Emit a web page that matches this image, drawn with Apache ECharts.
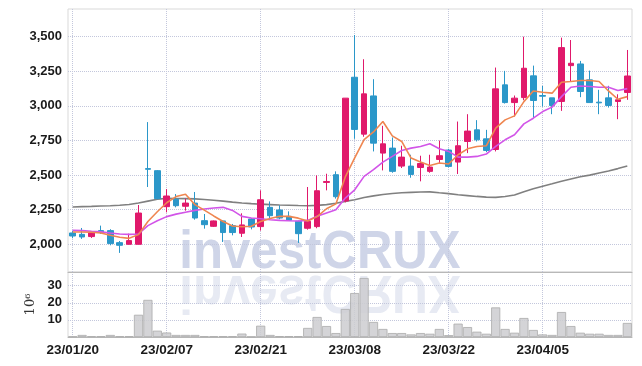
<!DOCTYPE html>
<html>
<head>
<meta charset="utf-8">
<script src="https://cdn.jsdelivr.net/npm/echarts@6/dist/echarts.min.js"></script>
<style>
html,body{margin:0;padding:0;background:#fff;}
#chart{width:642px;height:366px;}
</style>
</head>
<body>
<div id="chart"></div>
<script>
const dates = ['23/01/20','23/01/25','23/01/26','23/01/27','23/01/30','23/01/31','23/02/01','23/02/02','23/02/03','23/02/06',
'23/02/07','23/02/08','23/02/09','23/02/10','23/02/13','23/02/14','23/02/15','23/02/16','23/02/17','23/02/20',
'23/02/21','23/02/22','23/02/23','23/02/24','23/02/27','23/02/28','23/03/02','23/03/03','23/03/06','23/03/07',
'23/03/08','23/03/09','23/03/10','23/03/13','23/03/14','23/03/15','23/03/16','23/03/17','23/03/20','23/03/21',
'23/03/22','23/03/23','23/03/24','23/03/27','23/03/28','23/03/29','23/03/30','23/03/31','23/04/03','23/04/04',
'23/04/05','23/04/06','23/04/07','23/04/10','23/04/11','23/04/12','23/04/13','23/04/14','23/04/17','23/04/18'];

const opens  = [2082,2072,2056,2099,2099,2012,2000,2000,2547,2532, 2272,2325,2275,2298,2171,2130,2169,2135,2080,2183,
                2128,2267,2248,2202,2166,2116,2128,2447,2503,2313, 3207,2796,3072,2659,2695,2565,2565,2555,2527,2613,
                2681,2594,2743,2827,2762,2685,3152,3024,3060,3217, 3075,3058,3032,3291,3303,3188,3027,3058,3032,3097];
const closes = [2060,2053,2082,2085,2005,1993,2027,2226,2542,2330, 2349,2279,2298,2190,2142,2169,2085,2085,2140,2125,
                2322,2207,2190,2174,2077,2166,2387,2454,2344,3056, 2830,3087,2731,2726,2527,2630,2505,2584,2558,2640,
                2563,2712,2818,2755,2678,3123,3024,3056,3272,3039, 3070,3003,3421,3308,3104,3024,3022,3003,3044,3216];
const lows   = [2044,2039,2046,2075,1993,1938,2000,2000,2414,2325, 2231,2267,2243,2178,2113,2125,2017,2065,2053,2108,
                2099,2185,2181,2171,2010,2106,2116,2390,2330,2303, 2762,2777,2671,2534,2517,2551,2481,2455,2517,2584,
                2556,2508,2659,2743,2666,2671,3017,2923,3041,2911, 2995,2940,2964,3176,3063,3024,2940,2988,2904,3044];
const highs  = [2099,2118,2094,2135,2109,2024,2077,2284,2883,2536, 2399,2363,2330,2378,2219,2172,2169,2147,2224,2190,
                2390,2310,2282,2238,2171,2414,2498,2510,2527,3056, 3512,3337,3193,2856,2772,2712,2647,2640,2647,2750,
                2690,2887,2940,2897,2827,3277,3253,3075,3500,3291, 3144,3058,3493,3476,3325,3255,3116,3145,3084,3404];

const ma5  = [2089,2089,2087,2082,2065,2051,2043,2070,2165,2235, 2300,2345,2362,2287,2247,2205,2165,2132,2127,2130,
              2165,2187,2203,2202,2189,2168,2200,2257,2292,2487, 2625,2757,2812,2887,2783,2743,2623,2594,2570,2587,
              2580,2647,2690,2707,2712,2839,2899,2928,3031,3108, 3099,3092,3171,3176,3183,3183,3176,3108,3048,3067];
const ma20 = [2101,2099,2094,2090,2082,2075,2072,2075,2135,2170, 2200,2218,2232,2245,2255,2262,2267,2245,2202,2190,
              2185,2178,2173,2170,2168,2173,2202,2226,2250,2334, 2394,2491,2539,2594,2635,2678,2695,2707,2726,2690,
              2671,2630,2630,2635,2652,2707,2755,2791,2870,2911, 2959,2991,3067,3135,3144,3140,3135,3135,3111,3125];
const ma60 = [2270,2272,2274,2277,2279,2282,2288,2298,2312,2325, 2332,2331,2330,2328,2324,2318,2312,2305,2299,2294,
              2290,2287,2284,2282,2280,2279,2281,2287,2297,2310, 2322,2338,2350,2360,2367,2372,2375,2378,2379,2372,
              2366,2358,2352,2346,2341,2339,2345,2356,2380,2402, 2420,2437,2455,2472,2488,2500,2515,2530,2547,2566];

const volumes = [0.3,1.2,0.4,0.4,1.2,0.4,0.4,13.0,21.7,3.7, 2.6,1.2,1.2,1.2,0.4,0.4,0.4,0.4,2.0,0.2,
                 6.6,1.2,0.5,0.5,0.5,5.3,11.7,6.4,2.3,16.4, 25.7,34.5,8.8,4.7,2.3,2.3,1.5,2.3,1.9,4.7,
                 1.1,7.8,5.8,3.1,1.9,17.3,4.7,2.5,11.1,4.1, 1.5,1.2,14.6,6.4,2.5,1.9,1.9,1.2,1.2,8.2];

const priceTicks = [2000,2250,2500,2750,3000,3250,3500];
const volumeTicks = [10,20,30];

const candleData = opens.map((o,i)=>[o, closes[i], lows[i], highs[i]]);

const labelFont = "'Liberation Sans', Arial, sans-serif";
const splitStyle = {type:'dotted', color:'#c3c7dc', width:1};

const chart = echarts.init(document.getElementById('chart'), null, {renderer:'canvas'});
chart.setOption({
  animation:false,
  backgroundColor:'#fff',
  grid:[
    {left:68, top:9, width:564, height:263, show:true, borderColor:'#d9d9d9', borderWidth:1, backgroundColor:'transparent'},
    {left:68, top:272, width:564, height:65, show:true, borderColor:'#d9d9d9', borderWidth:1, backgroundColor:'transparent'}
  ],
  xAxis:[
    {type:'category', gridIndex:0, data:dates, boundaryGap:true,
     axisLine:{show:true, lineStyle:{color:'#b8b8b8'}}, axisTick:{show:false}, axisLabel:{show:false},
     splitLine:{show:true, interval:9, alignWithLabel:true, lineStyle:splitStyle}},
    {type:'category', gridIndex:1, data:dates, boundaryGap:true,
     axisLine:{show:true, lineStyle:{color:'#b8b8b8'}}, axisTick:{show:false, interval:9, alignWithLabel:true},
     axisLabel:{show:true, interval:9, fontFamily:labelFont, fontWeight:'bold', fontSize:13.5, color:'#1a1a1a', margin:6},
     splitLine:{show:true, interval:9, alignWithLabel:true, lineStyle:splitStyle}}
  ],
  yAxis:[
    {type:'value', gridIndex:0, min:1800, max:3700,
     axisLine:{show:false}, axisTick:{show:false, customValues:priceTicks},
     axisLabel:{customValues:priceTicks, fontFamily:labelFont, fontWeight:'bold', fontSize:13, color:'#1a1a1a', margin:6,
       formatter:v=>v.toLocaleString('en-US')},
     splitLine:{show:true, lineStyle:splitStyle}},
    {type:'value', gridIndex:1, min:0, max:38,
     axisLine:{show:false}, axisTick:{show:false, customValues:volumeTicks},
     axisLabel:{customValues:volumeTicks, fontFamily:labelFont, fontWeight:'bold', fontSize:13, color:'#1a1a1a', margin:6},
     splitLine:{show:true, lineStyle:splitStyle},
     name:'10\u2076', nameLocation:'middle', nameRotate:90, nameGap:21,
     nameTextStyle:{fontFamily:'DejaVu Serif', fontSize:13, color:'#333'}}
  ],
  graphic:[
    {type:'text', z:-1, x:320, y:280, scaleX:0.91,
     style:{text:'investCRUX', font:'bold 54px "Liberation Sans", sans-serif', fill:'#cfd5e8', align:'center', verticalAlign:'bottom'}},
    {type:'text', z:-1, x:320, y:264, scaleX:0.91, scaleY:-1,
     style:{text:'investCRUX', font:'bold 54px "Liberation Sans", sans-serif', fill:'#cfd5e8', opacity:0.5, align:'center', verticalAlign:'bottom'}}
  ],
  series:[
    {type:'candlestick', xAxisIndex:0, yAxisIndex:0, data:candleData, barWidth:6,
     itemStyle:{color:'#e0196b', color0:'#2b97c9', borderColor:'#e0196b', borderColor0:'#2b97c9', borderWidth:1}, z:3},
    {type:'line', xAxisIndex:0, yAxisIndex:0, data:ma60, symbol:'none', lineStyle:{color:'#808080', width:1.6}, z:2},
    {type:'line', xAxisIndex:0, yAxisIndex:0, data:ma20, symbol:'none', lineStyle:{color:'#d255e8', width:1.6}, z:4},
    {type:'line', xAxisIndex:0, yAxisIndex:0, data:ma5, symbol:'none', lineStyle:{color:'#ef8650', width:1.6}, z:5},
    {type:'bar', xAxisIndex:1, yAxisIndex:1, data:volumes, barCategoryGap:'3%',
     itemStyle:{color:'rgba(205,205,208,0.85)', borderColor:'#ababab', borderWidth:0.8}}
  ]
});
</script>
</body>
</html>
